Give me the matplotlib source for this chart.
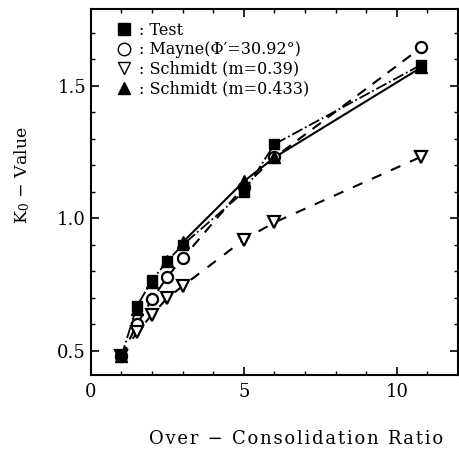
import matplotlib
matplotlib.use("Agg")
import matplotlib.pyplot as plt
from matplotlib.lines import Line2D
from matplotlib.ticker import MultipleLocator

plt.rcParams["font.family"] = ["DejaVu Serif"]
plt.rcParams["mathtext.fontset"] = "dejavuserif"

# over-consolidation ratios
ocr = [1, 1.5, 2, 2.5, 3, 5, 6, 10.8]

# K0 values
k0_test = [0.48, 0.668, 0.767, 0.84, 0.90, 1.10, 1.28, 1.58]
k0_mayne = [0.48, 0.60, 0.695, 0.78, 0.85, 1.12, 1.23, 1.645]
k0_schmidt_039 = [0.48, 0.57, 0.637, 0.70, 0.745, 0.92, 0.985, 1.233]
k0_schmidt_0433 = [0.48, 0.66, 0.76, 0.84, 0.91, 1.14, 1.23, 1.57]

labels = [
	": Test",
	": Mayne(Φ′=30.92°)",
	": Schmidt (m=0.39)",
	": Schmidt (m=0.433)",
]

fig = plt.figure(figsize=(4.59, 4.5), dpi=100)
ax = fig.add_axes([0.198, 0.167, 0.80, 0.813])

# lines first, markers on top
ax.plot(ocr, k0_test, "-.", color="black", lw=1.3, zorder=1)
ax.plot(ocr, k0_mayne, "--", color="black", lw=1.5, dashes=(5, 4), zorder=1)
ax.plot(ocr, k0_schmidt_039, "--", color="black", lw=1.5, dashes=(5, 5), zorder=1)
ax.plot(ocr[4:], k0_schmidt_0433[4:], "-", color="black", lw=1.5, zorder=1)

ax.plot(ocr, k0_mayne, "o", ms=8, mfc="white", mec="black", mew=1.6, ls="none", zorder=3)
ax.plot(ocr, k0_schmidt_039, "v", ms=8, mfc="white", mec="black", mew=1.6, ls="none", zorder=3)
ax.plot(ocr, k0_schmidt_0433, "^", ms=8, color="black", ls="none", zorder=4)
ax.plot(ocr, k0_test, "s", ms=7.5, color="black", ls="none", zorder=5)

handles = [
	Line2D([], [], marker="s", color="black", ls="none", ms=9),
	Line2D([], [], marker="o", mfc="white", mec="black", ls="none", ms=9, mew=1),
	Line2D([], [], marker="v", mfc="white", mec="black", ls="none", ms=9, mew=1),
	Line2D([], [], marker="^", color="black", ls="none", ms=9),
]
ax.legend(handles, labels, loc="upper left", frameon=False, fontsize=11.5,
	handlelength=0.7, handletextpad=0.6, labelspacing=0.15,
	borderaxespad=0.3, bbox_to_anchor=(0.045, 0.995))

ax.set_xlim(0, 12)
ax.set_ylim(0.41, 1.79)
ax.xaxis.set_major_locator(MultipleLocator(5))
ax.xaxis.set_minor_locator(MultipleLocator(1))
ax.yaxis.set_major_locator(MultipleLocator(0.5))
ax.yaxis.set_minor_locator(MultipleLocator(0.1))
ax.tick_params(which="both", direction="in", top=True, right=True, labelsize=13)
ax.tick_params(which="major", length=6, width=1.2)
ax.tick_params(which="minor", length=3, width=1)
ax.tick_params(axis="x", pad=6)
ax.yaxis.set_major_formatter(plt.FormatStrFormatter("%.1f"))
for s in ax.spines.values():
	s.set_linewidth(1.5)

# the scanned x label is set with loose letter spacing
ax.set_xlabel("\u200a".join("Over − Consolidation Ratio"), fontsize=13)
ax.xaxis.set_label_coords(0.56, -0.15)
ax.set_ylabel("K$_0$ − Value", fontsize=12.5)
ax.yaxis.set_label_coords(-0.16, 0.545)

fig.savefig("out.png", dpi=100)
